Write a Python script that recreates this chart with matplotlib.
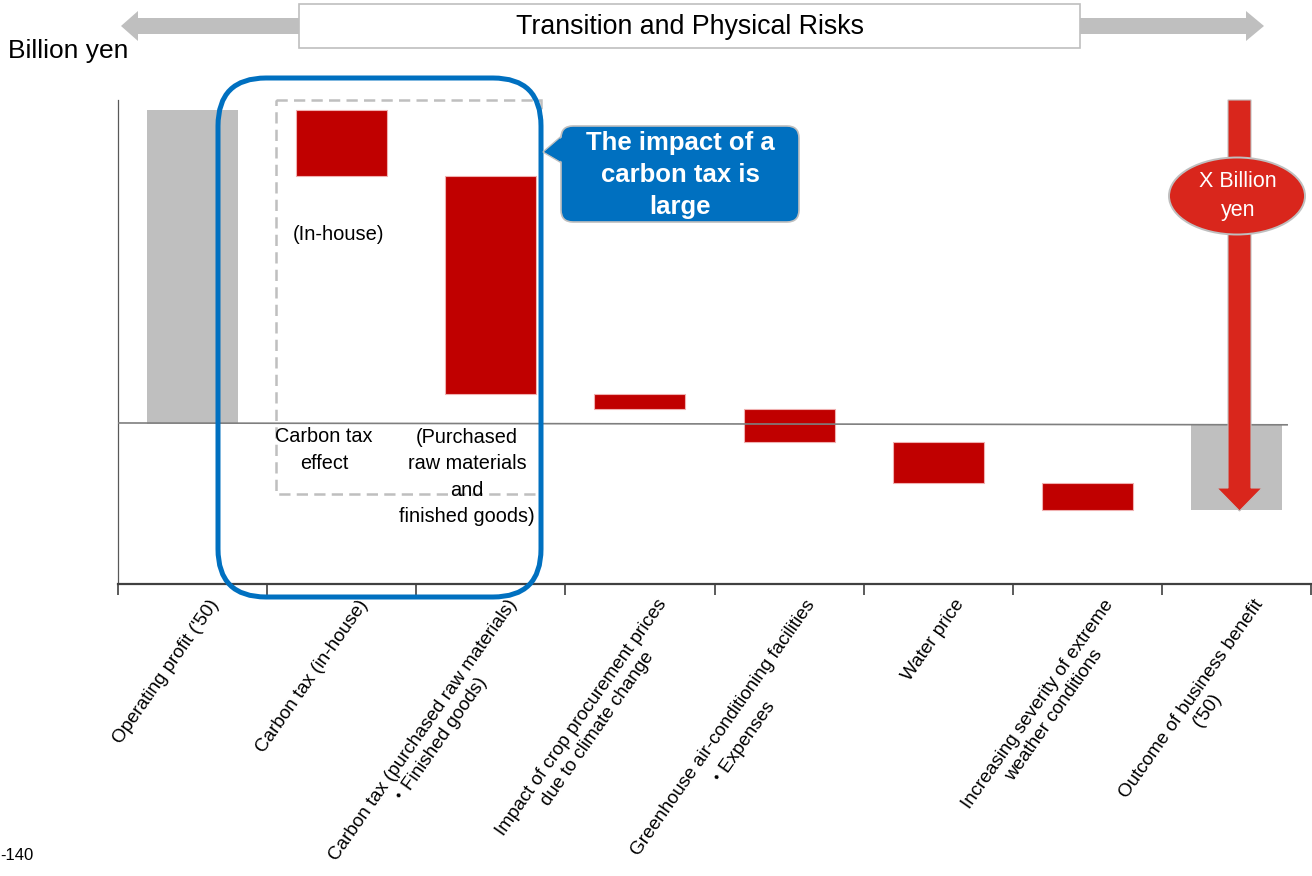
import numpy as np
import matplotlib
matplotlib.use("Agg")
import matplotlib.pyplot as plt
from matplotlib.patches import FancyBboxPatch, Rectangle, Polygon, Ellipse
from matplotlib.transforms import ScaledTranslation

plt.rcParams['font.family'] = ['Liberation Sans', 'Noto Sans CJK JP', 'DejaVu Sans']

# ---------------- data ----------------
categories = [
    "Operating profit ('50)",
    "Carbon tax (in-house)",
    "Carbon tax (purchased raw materials)\n・Finished goods)",
    "Impact of crop procurement prices\ndue to climate change",
    "Greenhouse air-conditioning facilities\n・Expenses",
    "Water price",
    "Increasing severity of extreme\nweather conditions",
    "Outcome of business benefit\n('50)",
]
start_value = 102.0
changes = [-21.5, -70.8, -5.0, -10.6, -13.4, -8.7]
y_label = "Billion yen"
banner_text = "Transition and Physical Risks"
callout_text = "The impact of a\ncarbon tax is\nlarge"
arrow_text = "X Billion\nyen"
note_inhouse = "(In-house)"
note_effect = "Carbon tax\neffect"
note_purchased = "(Purchased\nraw materials\nand\nfinished goods)"
stray_tick = "-140"

GREY = "#bfbfbf"
RED = "#c00000"
BLUE = "#0070c0"
ARROW_RED = "#d9261c"

W, H = 1312, 876
fig = plt.figure(figsize=(W / 100, H / 100), dpi=100)
ax = fig.add_axes([118 / W, 1 - 584 / H, (1311 - 118) / W, (584 - 100) / H])

# ---------------- waterfall ----------------
levels = np.concatenate([[start_value], start_value + np.cumsum(changes)])
final_value = levels[-1]
x = np.arange(len(categories))
bw = 0.61

ax.bar(x[0], start_value, width=bw, color=GREY, zorder=2)
ax.bar(x[1:-1], changes, bottom=levels[:-1], width=bw, color=RED,
       edgecolor="#f0b0b0", linewidth=0.8, zorder=2)
ax.bar(x[-1], final_value, width=bw, color=GREY, zorder=2)

ax.plot([-0.5, 7.34], [0.3, -0.3], color="#7f7f7f", lw=1.2, zorder=3)

ax.set_xlim(-0.5, 7.5)
ax.set_ylim(-52, 105.2)
for s in ["top", "right"]:
    ax.spines[s].set_visible(False)
ax.spines["left"].set_color("#595959")
ax.spines["left"].set_linewidth(0.9)
ax.spines["bottom"].set_color("#404040")
ax.spines["bottom"].set_linewidth(1.6)
ax.set_yticks([])

ax.set_xticks(x)
ax.set_xticklabels(categories, rotation=55, ha="right", va="top",
                   rotation_mode="anchor", fontsize=13.6, multialignment="center",
                   linespacing=1.2)
ax.set_xticks(np.arange(-0.5, len(categories) + 0.5, 1), minor=True)
ax.tick_params(axis="x", which="major", length=0, pad=9)
ax.tick_params(axis="x", which="minor", length=8, width=1.2, color="#404040", direction="out")
for lab in ax.get_xticklabels():
    lab.set_transform(lab.get_transform() + ScaledTranslation(16 / 100, 0, fig.dpi_scale_trans))

# ---------------- overlay (pixel coordinates) ----------------
ov = fig.add_axes([0, 0, 1, 1], zorder=5)
ov.set_xlim(0, W)
ov.set_ylim(H, 0)
ov.axis("off")
ov.patch.set_alpha(0)

# top banner arrow
ov.add_patch(Polygon([(121, 26), (138, 11), (138, 18), (1246, 18), (1246, 11), (1264, 26),
                      (1246, 41), (1246, 34), (138, 34), (138, 41)],
                     closed=True, fc=GREY, ec="none"))
ov.add_patch(Rectangle((299, 4), 781, 44, fc="white", ec=GREY, lw=1.2))
ov.text(690, 27, banner_text, ha="center", va="center", fontsize=19.3, color="black")

ov.text(8, 51, y_label, ha="left", va="center", fontsize=19, color="black")
ov.text(0, 856, stray_tick, ha="left", va="center", fontsize=12, color="black")

# dashed grey box
ov.add_patch(Rectangle((276, 100), 265, 394, fc="none", ec=GREY, lw=1.8,
                       linestyle=(0, (4.5, 2.5))))
# blue rounded frame
ov.add_patch(FancyBboxPatch((218, 78), 323, 519, boxstyle="round,pad=0,rounding_size=48",
                            fc="none", ec=BLUE, lw=3.6))

# callout
ov.add_patch(Polygon([(565, 133), (543, 152), (565, 165)], closed=True, fc=BLUE, ec=GREY, lw=1.0))
ov.add_patch(FancyBboxPatch((561, 126), 238, 96, boxstyle="round,pad=0,rounding_size=12",
                            fc=BLUE, ec=GREY, lw=1.2))
ov.add_patch(Polygon([(566, 134), (545, 152), (566, 164)], closed=True, fc=BLUE, ec="none"))
ov.text(680, 175, callout_text, ha="center", va="center", fontsize=18.5,
        fontweight="bold", color="white", linespacing=1.42)

# notes
ov.text(339, 235, note_inhouse, ha="center", va="center", fontsize=14.5)
ov.text(324, 450, note_effect, ha="center", va="center", fontsize=14.3, linespacing=1.5)
ov.text(467, 477, note_purchased, ha="center", va="center", fontsize=14.3, linespacing=1.5)

# red arrow with ellipse
ov.add_patch(Polygon([(1228, 100), (1251, 100), (1251, 488), (1262, 488), (1239.5, 511),
                      (1217, 488), (1228, 488)], closed=True, fc=ARROW_RED, ec=GREY, lw=0.8))
ov.add_patch(Ellipse((1237, 196), 136, 77, fc=ARROW_RED, ec=GREY, lw=1.4))
ov.text(1238, 196, arrow_text, ha="center", va="center", fontsize=15.5, color="white",
        linespacing=1.45)

fig.savefig("out.png", dpi=100)
